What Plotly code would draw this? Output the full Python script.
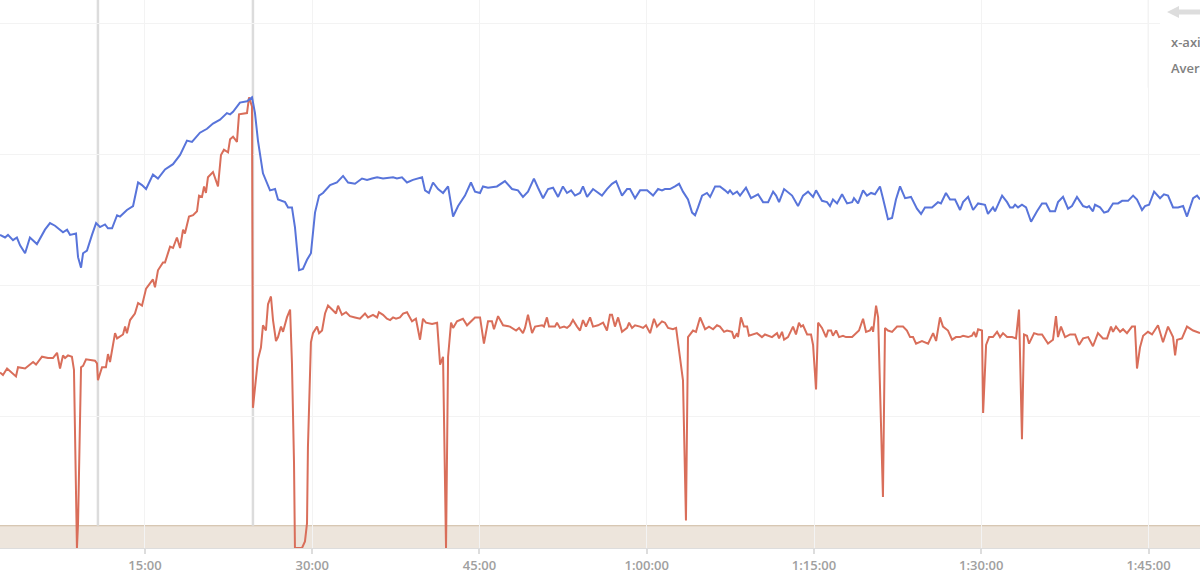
import plotly.graph_objects as go

# elapsed time in seconds
t_blue = [120,147,163,190,211,228,255,281,319,362,389,416,459,481,497,529,540,556,567,588,615,637,658,685,701,723,750,766,803,836,863,884,906,943,970,1008,1051,1089,1126,1153,1196,1234,1266,1304,1341,1358,1374,1411,1449,1476,1492,1508,1535,1573,1600,1616,1654,1670,1691,1707,1729,1750,1772,1793,1815,1837,1858,1896,1933,1966,1993,2030,2068,2095,2122,2149,2181,2235,2256,2283,2310,2342,2391,2407,2428,2450,2477,2504,2531,2558,2585,2622,2654,2676,2703,2719,2746,2794,2837,2875,2907,2934,2961,2993,3015,3042,3069,3096,3123,3149,3171,3193,3214,3241,3257,3279,3311,3359,3386,3413,3435,3467,3494,3510,3537,3564,3602,3634,3661,3682,3698,3725,3752,3774,3795,3822,3844,3860,3876,3898,3924,3941,3968,3994,4021,4037,4048,4064,4086,4102,4134,4161,4199,4226,4253,4280,4296,4312,4339,4382,4414,4441,4468,4495,4511,4543,4570,4586,4602,4624,4651,4678,4705,4715,4737,4764,4785,4807,4828,4855,4871,4898,4920,4941,4963,4990,5022,5054,5076,5097,5135,5167,5183,5210,5232,5259,5286,5302,5329,5356,5383,5420,5436,5463,5474,5512,5539,5555,5571,5582,5598,5619,5641,5668,5700,5727,5749,5770,5797,5813,5840,5867,5888,5915,5948,5969,5980,6001,6012,6039,6061,6082,6109,6136,6158,6190,6217,6238,6265,6281,6303,6330,6362,6383,6405,6432,6459,6486,6507,6540,6561,6577]
v_blue = [239,237,239,235,237,231,225,237,232,243,248,246,241,243,239,240,222,214,225,227,239,248,245,247,244,244,254,253,258,261,279,277,274,285,282,289,293,300,311,310,317,320,324,327,332,331,333,340,341,344,332,311,286,273,274,266,264,260,260,245,212,213,220,225,256,269,271,277,279,284,279,278,282,281,282,283,282,283,282,283,279,281,283,273,271,279,274,271,276,253,261,269,279,272,271,276,275,276,280,274,273,268,272,282,275,267,274,275,268,276,271,273,269,271,276,268,274,269,274,278,280,269,274,274,267,273,273,269,274,273,274,274,276,278,272,266,256,254,260,269,271,268,276,276,273,271,273,270,272,269,275,267,270,264,264,272,269,264,274,269,261,269,272,268,273,265,264,261,266,263,270,263,264,267,263,273,269,271,270,276,267,251,252,266,276,267,268,259,255,260,260,264,263,271,266,266,258,264,268,258,263,262,255,260,257,269,264,260,260,262,260,262,260,249,257,263,263,257,257,264,268,259,261,268,261,260,261,257,262,260,256,257,263,263,265,265,269,266,258,261,262,272,267,270,269,260,260,261,253,267,269,266]

t_red = [120,136,158,185,206,217,255,298,314,346,378,405,427,443,459,470,486,507,518,534,540,556,567,583,615,631,642,647,669,690,701,712,739,750,782,793,803,820,846,863,884,906,927,943,954,970,997,1008,1035,1051,1072,1089,1105,1115,1137,1159,1180,1191,1207,1218,1228,1239,1266,1293,1309,1325,1347,1358,1374,1395,1406,1449,1460,1476,1481,1498,1508,1524,1535,1551,1562,1578,1589,1605,1616,1632,1643,1664,1681,1691,1702,1707,1745,1761,1772,1777,1793,1804,1826,1837,1853,1869,1885,1907,1928,1939,1960,1982,2003,2030,2057,2084,2100,2127,2149,2159,2181,2202,2219,2235,2251,2272,2289,2310,2337,2358,2380,2396,2412,2445,2472,2488,2504,2520,2531,2547,2558,2579,2611,2633,2649,2676,2703,2724,2746,2767,2778,2800,2827,2864,2897,2913,2934,2945,2961,2983,2999,3037,3047,3063,3074,3106,3117,3133,3155,3171,3187,3203,3225,3241,3257,3273,3295,3311,3338,3365,3386,3402,3413,3429,3446,3467,3494,3505,3521,3537,3564,3580,3596,3618,3639,3655,3682,3698,3715,3741,3758,3774,3795,3811,3822,3849,3865,3887,3914,3935,3957,3978,3994,4016,4032,4059,4070,4086,4091,4107,4123,4140,4150,4193,4220,4236,4274,4301,4312,4328,4339,4360,4387,4403,4419,4430,4441,4463,4484,4495,4511,4522,4543,4565,4576,4592,4602,4619,4635,4656,4672,4705,4726,4742,4764,4780,4801,4812,4818,4834,4845,4861,4871,4882,4898,4920,4947,4963,4979,5000,5017,5033,5049,5081,5097,5114,5141,5157,5178,5194,5221,5243,5264,5286,5302,5329,5350,5361,5372,5383,5404,5410,5426,5442,5463,5485,5501,5517,5539,5566,5587,5603,5619,5630,5646,5657,5684,5705,5727,5759,5786,5802,5813,5829,5851,5878,5905,5926,5948,5975,6001,6028,6055,6077,6098,6109,6125,6147,6163,6184,6211,6227,6238,6254,6271,6297,6319,6351,6378,6405,6432,6443,6454,6480,6507,6540,6577]
v_red = [134,132,137,134,131,138,137,142,140,146,145,145,149,137,147,145,147,146,136,0,19,138,139,144,143,143,141,128,138,138,148,142,164,160,163,169,164,174,179,187,185,198,202,205,199,212,218,218,230,229,237,229,243,240,253,254,257,269,268,276,271,283,287,276,300,304,302,312,314,310,331,332,344,337,107,134,144,153,170,166,186,192,174,158,161,169,165,176,182,141,65,0,0,5,19,77,157,164,169,164,166,179,185,182,179,185,178,180,177,176,175,179,176,178,176,180,178,175,174,176,175,176,179,180,173,175,159,175,172,171,172,140,146,0,146,172,168,173,175,170,172,176,176,156,173,173,167,177,170,169,166,168,164,168,178,164,169,170,169,176,169,169,172,168,169,168,170,174,169,166,174,169,176,169,170,172,166,178,178,169,176,165,168,172,168,170,169,168,170,164,175,169,173,172,168,167,168,151,128,21,161,166,165,176,167,169,167,170,169,165,166,165,160,164,161,176,169,169,162,164,161,163,161,164,160,165,159,161,169,163,172,169,170,163,163,155,121,172,168,161,166,166,162,166,161,162,161,161,164,166,175,165,166,169,165,185,176,98,39,168,166,165,169,169,169,166,161,161,156,158,157,156,164,158,176,169,166,159,161,161,162,161,162,165,161,167,166,103,155,161,161,165,161,164,161,161,160,182,83,163,162,156,164,163,163,156,159,177,161,169,161,163,163,155,160,161,154,164,160,160,169,165,169,165,167,164,169,169,137,153,162,165,163,170,157,169,161,147,159,160,169,166,164]

tick_vals = [900, 1800, 2700, 3600, 4500, 5400, 6300]
tick_text = ["15:00", "30:00", "45:00", "1:00:00", "1:15:00", "1:30:00", "1:45:00"]
lap_marks = [647, 1481]
zone_top = 17
legend_names = ["x-axis", "Average"]

fig = go.Figure()
fig.add_trace(go.Scatter(x=t_red, y=v_red, mode="lines", name=legend_names[1],
                         line=dict(color="rgb(217,110,90)", width=2), showlegend=False))
fig.add_trace(go.Scatter(x=t_blue, y=v_blue, mode="lines", name=legend_names[0],
                         line=dict(color="rgb(88,116,218)", width=2), showlegend=False))

# zone band
fig.add_shape(type="rect", xref="paper", yref="y", x0=0, x1=1, y0=0, y1=zone_top,
              fillcolor="rgb(237,229,220)", line=dict(width=0), layer="below")
fig.add_shape(type="line", xref="paper", yref="y", x0=0, x1=1, y0=zone_top, y1=zone_top,
              line=dict(color="rgb(205,185,160)", width=1), layer="below")
for lm in lap_marks:
    fig.add_shape(type="line", xref="x", yref="paper", x0=lm, x1=lm, y0=zone_top / 418.3, y1=1,
                  line=dict(color="#dcdcdc", width=2.5), layer="below")

# legend box (partially off-screen)
fig.add_shape(type="rect", xref="paper", yref="paper", x0=0.9667, x1=1.05, y0=0.84, y1=1.01,
              fillcolor="white", line=dict(width=0), layer="above")
fig.add_shape(type="line", xref="paper", yref="paper", x0=1148 / 1200, x1=1148 / 1200, y0=0.84, y1=1.0,
              line=dict(color="#f3f3f3", width=1), layer="above")
fig.add_shape(type="path", xref="paper", yref="paper",
              path="M 0.9725 0.9781 L 0.9825 0.9891 L 0.9825 0.9827 L 1.0 0.9827 L 1.0 0.9736 L 0.9825 0.9736 L 0.9825 0.9672 Z",
              fillcolor="#dddddd", line=dict(width=0), layer="above", y0shift=0)
fig.add_annotation(xref="paper", yref="paper", x=1169 / 1200, y=(548 - 42) / 548, text=legend_names[0],
                   showarrow=False, xanchor="left", yanchor="middle",
                   font=dict(family="Open Sans", size=13, color="#808080", weight=600))
fig.add_annotation(xref="paper", yref="paper", x=1169 / 1200, y=(548 - 68) / 548, text=legend_names[1],
                   showarrow=False, xanchor="left", yanchor="middle",
                   font=dict(family="Open Sans", size=13, color="#808080", weight=600))

fig.update_layout(
    width=1200, height=578,
    margin=dict(l=0, r=0, t=0, b=30),
    plot_bgcolor="white", paper_bgcolor="white",
    font=dict(family="Open Sans", color="#a0a0a0"),
    showlegend=False,
)
fig.update_xaxes(range=[120, 6577], tickvals=tick_vals, ticktext=tick_text,
                 showgrid=True, gridcolor="#f3f3f3", gridwidth=1,
                 ticks="outside", ticklen=5, tickcolor="#dddddd", tickwidth=2,
                 showline=True, linecolor="#dddddd", linewidth=1,
                 tickfont=dict(family="Open Sans", size=13, color="#a0a0a0", weight=600),
                 zeroline=False, fixedrange=True)
fig.update_yaxes(range=[0, 418.3], tickvals=[100, 200, 300, 400], showticklabels=False,
                 showgrid=True, gridcolor="#f3f3f3", gridwidth=1, zeroline=False, showline=False,
                 fixedrange=True)

fig.write_html("out.html", config={"displayModeBar": False},
               post_script="document.body.style.margin='0';document.body.style.overflow='hidden';")
